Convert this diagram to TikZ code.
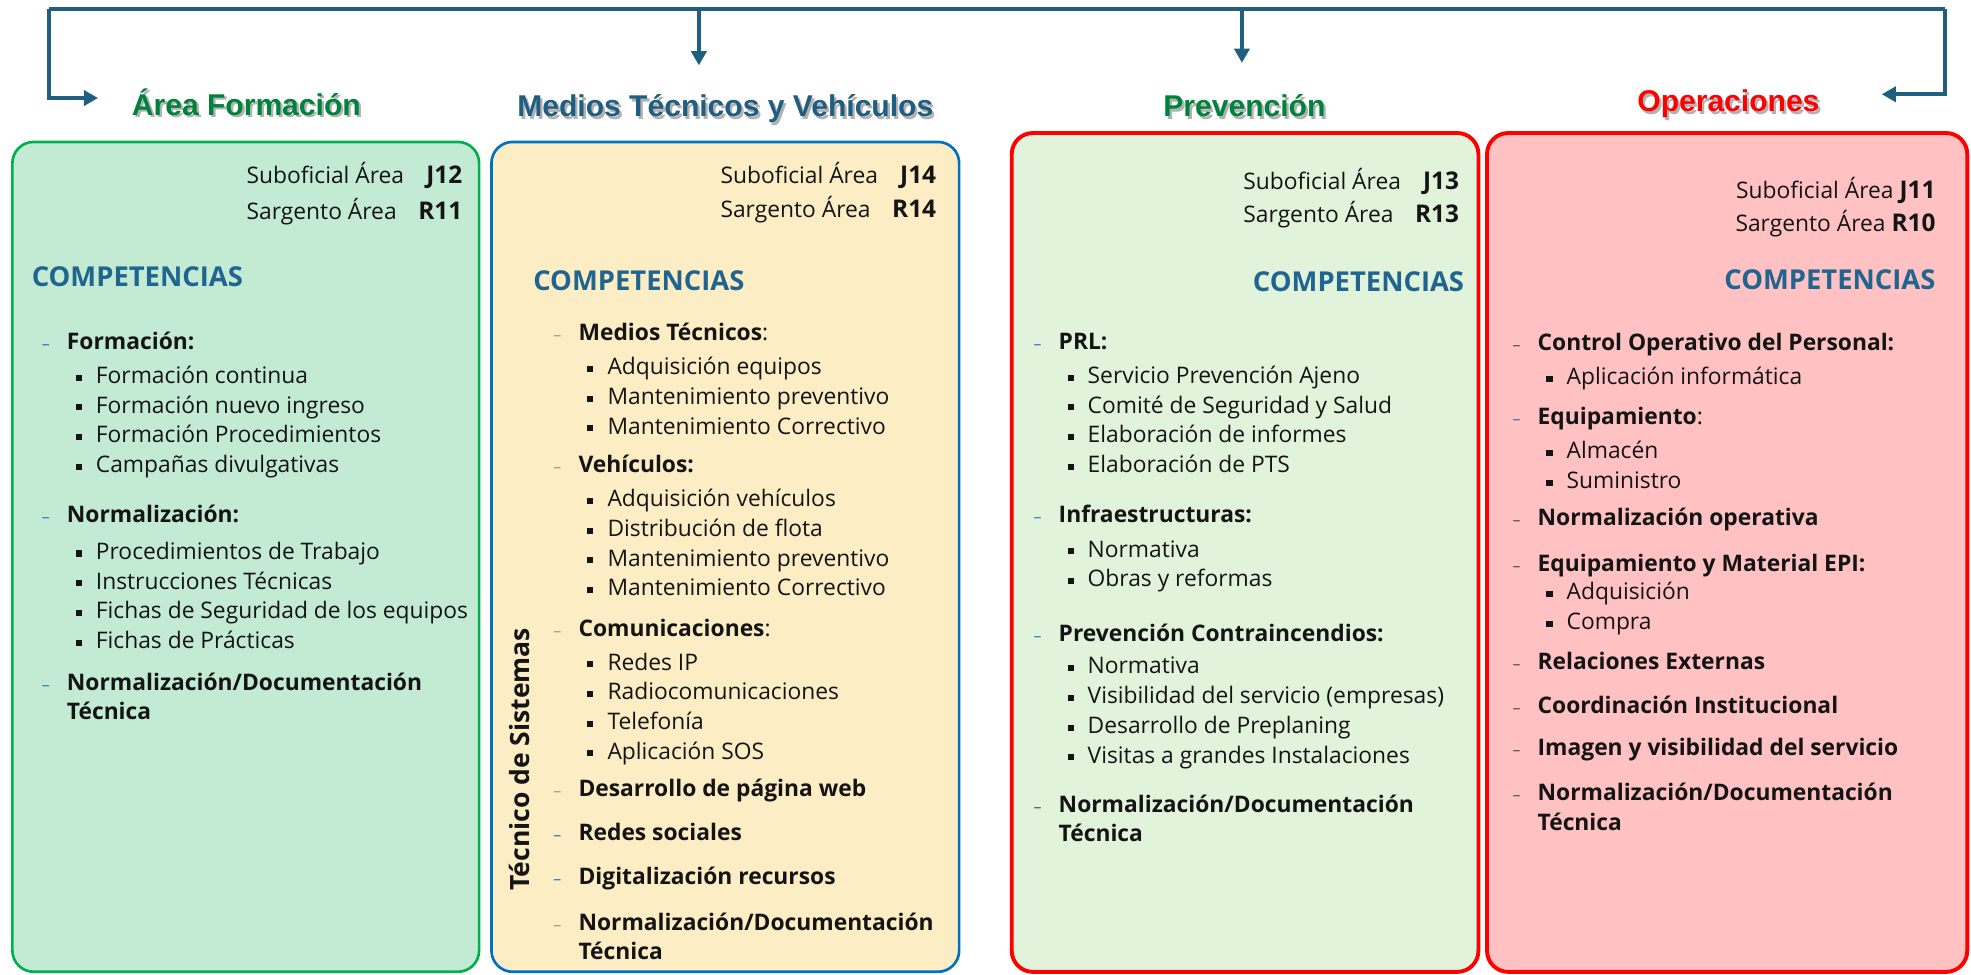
\documentclass[tikz,border=0pt]{standalone}
\usepackage{fontspec}
\setmainfont{Open Sans}
\newfontfamily\titfont{Liberation Sans}
\usetikzlibrary{arrows.meta,positioning}

\definecolor{verdeTit}{RGB}{0,130,60}
\definecolor{azulTit}{RGB}{31,94,128}
\definecolor{rojoTit}{RGB}{255,0,0}
\definecolor{azulFlecha}{RGB}{31,95,128}
\definecolor{azulComp}{RGB}{31,101,144}
\definecolor{fondoForm}{RGB}{195,235,212}
\definecolor{bordeForm}{RGB}{0,176,80}
\definecolor{fondoMed}{RGB}{253,237,196}
\definecolor{bordeMed}{RGB}{0,112,192}
\definecolor{fondoPrev}{RGB}{226,243,219}
\definecolor{fondoOper}{RGB}{255,193,193}
\definecolor{texto}{RGB}{20,20,20}
\definecolor{guionAz}{RGB}{46,117,182}
\definecolor{guionOc}{RGB}{165,150,100}
\definecolor{guionGr}{RGB}{80,80,80}

% macros de listas
\newcommand{\cat}[2][guionAz]{\makebox[14.2pt][l]{\textcolor{#1}{\small\textendash}}\textbf{#2}}
\newcommand{\vin}[1]{\hspace*{19.2pt}\makebox[11.4pt][l]{\rule[1.6pt]{3.4pt}{3.4pt}}#1}
\newcommand{\cont}[1]{\hspace*{14.2pt}\textbf{#1}}
\newcommand{\lista}[1]{\begin{tabular}[t]{@{}l@{}}#1\end{tabular}}
\newcommand{\cod}[1]{{\fontsize{13.8}{16}\selectfont\bfseries #1}}
\newcommand{\sombra}[2]{\makebox[0pt][l]{\hspace{1.3pt}\raisebox{-1.3pt}{\textcolor{black!30}{#2}}}\textcolor{#1}{#2}}

\begin{document}
\begin{tikzpicture}[x=0.025cm, y=-0.025cm]
% Definición de estilos
\tikzset{
  caja/.style={rectangle, rounded corners=12pt, draw, line width=1.5pt, minimum width=9.28cm, minimum height=16.5cm, inner sep=0pt},
  titulo/.style={anchor=base, inner sep=0pt, font=\titfont\fontsize{17}{20}\selectfont\bfseries},
  items/.style={anchor=base west, inner sep=0pt, text=texto, font=\fontsize{12.9}{16.8}\selectfont},
  cabecera/.style={anchor=base east, inner sep=0pt, text=texto, font=\fontsize{12.9}{16.8}\selectfont},
  comp/.style={inner sep=0pt, text=azulComp, font=\fontsize{15.5}{18}\selectfont\bfseries},
  linea/.style={draw=azulFlecha, line width=2.2pt},
  flecha/.style={linea, -{Triangle[length=8pt,width=8.5pt]}}
}
\useasboundingbox (0,0) rectangle (1568,775);

% Cajas de las áreas
\node[caja, draw=bordeForm, fill=fondoForm] (caja_form) at (195.5,443) {};
\node[caja, draw=bordeMed, fill=fondoMed, minimum width=9.3cm] (caja_med) at (577,443) {};
\node[caja, draw=rojoTit, fill=fondoPrev, line width=2.2pt, minimum height=16.68cm] (caja_prev) at (990.5,439.5) {};
\node[caja, draw=rojoTit, fill=fondoOper, line width=2.2pt, minimum width=9.55cm, minimum height=16.68cm] (caja_oper) at (1374,439.5) {};

% Títulos
\node[titulo] (tit_form) at (196,92) {\sombra{verdeTit}{Área Formación}};
\node[titulo] (tit_med) at (577,93) {\sombra{azulTit}{Medios Técnicos y Vehículos}};
\node[titulo] (tit_prev) at (990,93) {\sombra{verdeTit}{Prevención}};
\node[titulo] (tit_oper) at (1375,89) {\sombra{rojoTit}{Operaciones}};

% Conectores superiores
\coordinate (barL) at (39,7);
\coordinate (barR) at (1547,7);
\coordinate (finForm) at (78,78);
\coordinate (finMed) at (556,52);
\coordinate (finPrev) at (988,50);
\coordinate (finOper) at (1497,75);
\draw[linea] (barL) -- (barR);
\draw[flecha] (barL) |- (finForm);
\draw[flecha] (barL -| finMed) -- (finMed);
\draw[flecha] (barL -| finPrev) -- (finPrev);
\draw[flecha] (barR) |- (finOper);

% Área Formación
\node[cabecera] (jefe_form) at (368,146) {\begin{tabular}[t]{@{}l@{\hspace{8pt}}r@{}}Suboficial Área & \cod{J12}\\[3.1pt] Sargento Área & \cod{R11}\end{tabular}};
\node[comp, anchor=base west] (comp_form) at (25,228) {COMPETENCIAS};
\node[items] (form_formacion) at (33,278) {\lista{\cat{Formación:}\\[2.5pt]
  \vin{Formación continua}\\ \vin{Formación nuevo ingreso}\\
  \vin{Formación Procedimientos}\\ \vin{Campañas divulgativas}}};
\node[items] (form_normal) at (33,416) {\lista{\cat{Normalización:}\\[3.8pt]
  \vin{Procedimientos de Trabajo}\\ \vin{Instrucciones Técnicas}\\
  \vin{Fichas de Seguridad de los equipos}\\ \vin{Fichas de Prácticas}}};
\node[items] (form_doc) at (33,549) {\lista{\cat{Normalización/Documentación}\\ \cont{Técnica}}};

% Medios Técnicos y Vehículos
\node[cabecera] (jefe_med) at (745,146) {\begin{tabular}[t]{@{}l@{\hspace{8pt}}r@{}}Suboficial Área & \cod{J14}\\[2.4pt] Sargento Área & \cod{R14}\end{tabular}};
\node[comp, anchor=base west] (comp_med) at (424,231) {COMPETENCIAS};
\node[rotate=90, inner sep=0pt, text=texto, font=\fontsize{15}{17}\selectfont\bfseries] (tecnico) at (413,604) {Técnico de Sistemas};
\node[items] (med_tecnicos) at (440,271) {\lista{\cat[guionOc]{Medios Técnicos}:\\[2.5pt]
  \vin{Adquisición equipos}\\ \vin{Mantenimiento preventivo}\\ \vin{Mantenimiento Correctivo}}};
\node[items] (med_vehiculos) at (440,376) {\lista{\cat[guionOc]{Vehículos:}\\[2.5pt]
  \vin{Adquisición vehículos}\\ \vin{Distribución de flota}\\
  \vin{Mantenimiento preventivo}\\ \vin{Mantenimiento Correctivo}}};
\node[items] (med_comunic) at (440,506) {\lista{\cat[guionOc]{Comunicaciones}:\\[2.5pt]
  \vin{Redes IP}\\ \vin{Radiocomunicaciones}\\ \vin{Telefonía}\\ \vin{Aplicación SOS}}};
\node[items] (med_web) at (440,634) {\lista{\cat[guionOc]{Desarrollo de página web}}};
\node[items] (med_redes) at (440,669) {\lista{\cat{Redes sociales}}};
\node[items] (med_digital) at (440,704) {\lista{\cat{Digitalización recursos}}};
\node[items] (med_doc) at (440,740) {\lista{\cat[guionOc]{Normalización/Documentación}\\ \cont{Técnica}}};

% Prevención
\node[cabecera] (jefe_prev) at (1161,151) {\begin{tabular}[t]{@{}l@{\hspace{8pt}}r@{}}Suboficial Área & \cod{J13}\\[1.7pt] Sargento Área & \cod{R13}\end{tabular}};
\node[comp, anchor=base east] (comp_prev) at (1165,232) {COMPETENCIAS};
\node[items] (prev_prl) at (822,278) {\lista{\cat{PRL:}\\[2.5pt]
  \vin{Servicio Prevención Ajeno}\\ \vin{Comité de Seguridad y Salud}\\
  \vin{Elaboración de informes}\\ \vin{Elaboración de PTS}}};
\node[items] (prev_infra) at (822,416) {\lista{\cat{Infraestructuras:}\\[2.5pt]
  \vin{Normativa}\\ \vin{Obras y reformas}}};
\node[items] (prev_incendios) at (822,510) {\lista{\cat{Prevención Contraincendios:}\\[1.8pt]
  \vin{Normativa}\\ \vin{Visibilidad del servicio (empresas)}\\
  \vin{Desarrollo de Preplaning}\\ \vin{Visitas a grandes Instalaciones}}};
\node[items] (prev_doc) at (822,646) {\lista{\cat[guionGr]{Normalización/Documentación}\\ \cont{Técnica}}};

% Operaciones
\node[cabecera] (jefe_oper) at (1540,158) {\begin{tabular}[t]{@{}r@{}}Suboficial Área \cod{J11}\\[1.7pt] Sargento Área \cod{R10}\end{tabular}};
\node[comp, anchor=base east] (comp_oper) at (1540,230) {COMPETENCIAS};
\node[items] (oper_control) at (1203,279) {\lista{\cat[guionGr]{Control Operativo del Personal:}\\[2.5pt]
  \vin{Aplicación informática}}};
\node[items] (oper_equipo) at (1203,338) {\lista{\cat{Equipamiento}:\\[2.5pt]
  \vin{Almacén}\\ \vin{Suministro}}};
\node[items] (oper_normal) at (1203,418) {\lista{\cat[guionGr]{Normalización operativa}}};
\node[items] (oper_epi) at (1203,455) {\lista{\cat[guionGr]{Equipamiento y Material EPI:}\\[-1.1pt]
  \vin{Adquisición}\\ \vin{Compra}}};
\node[items] (oper_relac) at (1203,533) {\lista{\cat[guionGr]{Relaciones Externas}}};
\node[items] (oper_coord) at (1203,568) {\lista{\cat[guionGr]{Coordinación Institucional}}};
\node[items] (oper_imagen) at (1203,601) {\lista{\cat[guionGr]{Imagen y visibilidad del servicio}}};
\node[items] (oper_doc) at (1203,637) {\lista{\cat[guionGr]{Normalización/Documentación}\\ \cont{Técnica}}};

\end{tikzpicture}
\end{document}
